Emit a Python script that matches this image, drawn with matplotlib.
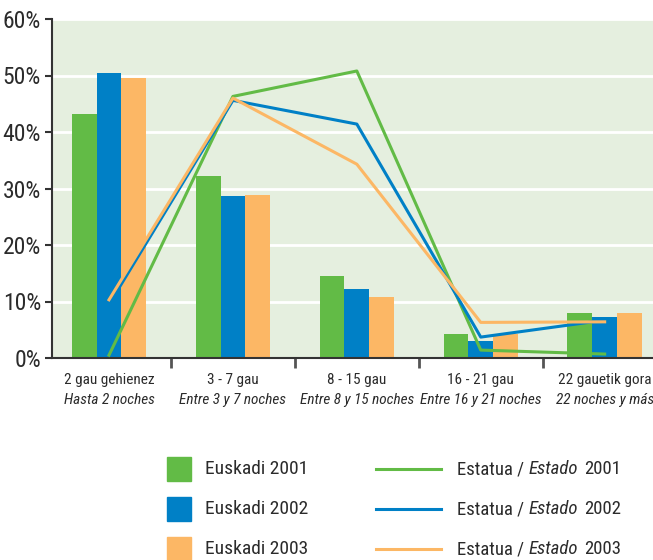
import matplotlib
matplotlib.use("Agg")
import matplotlib.pyplot as plt
from matplotlib.lines import Line2D
from matplotlib.patches import Rectangle
import numpy as np

categories_eu = ["2 gau gehienez", "3 - 7 gau", "8 - 15 gau", "16 - 21 gau", "22 gauetik gora"]
categories_es = ["Hasta 2 noches", "Entre 3 y 7 noches", "Entre 8 y 15 noches", "Entre 16 y 21 noches", "22 noches y más"]
years = ["2001", "2002", "2003"]
euskadi_2001 = [43.2, 32.2, 14.5, 4.2, 8.0]
euskadi_2002 = [50.4, 28.7, 12.2, 3.0, 7.3]
euskadi_2003 = [49.6, 28.8, 10.8, 4.2, 8.0]
estado_2001 = [0.5, 46.3, 50.8, 1.4, 0.7]
estado_2002 = [9.5, 45.6, 41.4, 3.7, 6.7]
estado_2003 = [10.3, 46.0, 34.3, 6.3, 6.4]
yticks = [0, 10, 20, 30, 40, 50, 60]

colors = ["#62BB46", "#0080C6", "#FCB765"]
FONT = "Roboto Condensed"
plt.rcParams['font.family'] = [FONT, 'DejaVu Sans']
txt = "#2b2b2b"

fig = plt.figure(figsize=(6.53, 5.6), dpi=100)
ax = fig.add_axes([52/653, 1-358/560, 1-52/653, (358-19)/560])
ax.set_facecolor("#E5EFDF")
x = np.arange(len(categories_eu))
w = 0.2
for i, (vals, c) in enumerate(zip([euskadi_2001, euskadi_2002, euskadi_2003], colors)):
    ax.bar(x + (i-1)*w, vals, width=w, color=c, zorder=2)
for vals, c in zip([estado_2001, estado_2002, estado_2003], colors):
    ax.plot(x, vals, color=c, lw=2.2, zorder=3)

ax.set_ylim(0, 60)
ax.set_xlim(-0.46, 4.39)
ax.set_yticks(yticks)
ax.set_yticklabels([f"{v}%" for v in yticks], fontsize=17, color=txt)
ax.yaxis.grid(True, color="white", lw=2, zorder=1)
ax.set_axisbelow(True)
ax.set_xticks(x)
ax.set_xticklabels(categories_eu, fontsize=11, color=txt)
ax.tick_params(axis='x', which='major', length=0, pad=16)
ax.set_xticks(x[:-1] + 0.5, minor=True)
ax.tick_params(axis='x', which='minor', length=7, width=2, color="#555555")
ax.tick_params(axis='y', length=5, width=1.5, color="#333333", pad=3)
for s in ["top", "right"]:
    ax.spines[s].set_visible(False)
ax.spines["left"].set_color("#333333")
ax.spines["left"].set_linewidth(1.5)
ax.spines["bottom"].set_color("#333333")
ax.spines["bottom"].set_linewidth(1.5)
for lab in ax.get_xticklabels():
    lab.set_verticalalignment("center")
for xi, lab in zip(x, categories_es):
    ax.text(xi, -42/339*60, lab, ha="center", va="center", fontsize=11, style="italic",
            color=txt, transform=ax.transData, clip_on=False)

# legend
def fx(px): return px/653
def fy(py): return 1-py/560
for i, (c, yr) in enumerate(zip(colors, years)):
    yc = 469 + 40*i
    fig.patches.append(Rectangle((fx(167), fy(yc+12)), 24/653, 24/560, color=c, transform=fig.transFigure))
    fig.text(fx(205), fy(yc), f"Euskadi {yr}", fontsize=14, color=txt, va="center", ha="left")
    fig.lines.append(Line2D([fx(376), fx(441)], [fy(yc), fy(yc)], color=c, lw=2.2, transform=fig.transFigure))
    fig.text(fx(457), fy(yc), "Estatua /", fontsize=13.5, color=txt, va="center", ha="left")
    fig.text(fx(529), fy(yc), "Estado", fontsize=13.5, color=txt, va="center", ha="left", style="italic")
    fig.text(fx(584), fy(yc), yr, fontsize=13.5, color=txt, va="center", ha="left")

fig.savefig("out.png", dpi=100)
